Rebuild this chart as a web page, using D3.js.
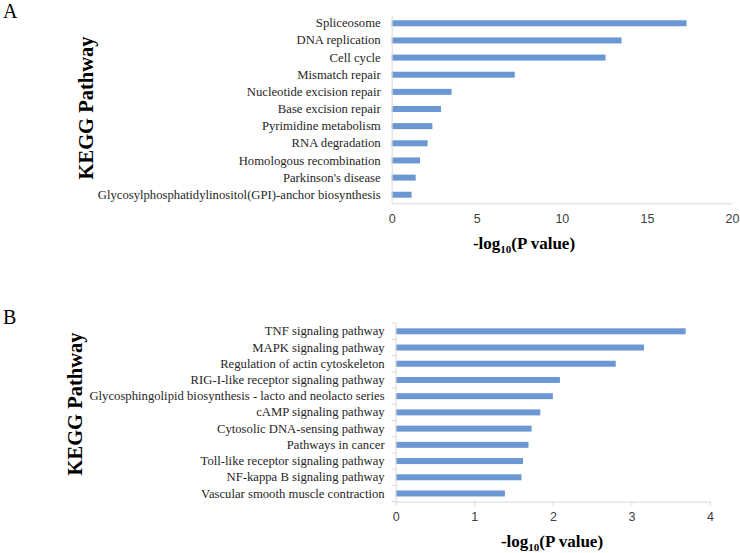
<!DOCTYPE html>
<html>
<head>
<meta charset="utf-8">
<script src="https://cdn.jsdelivr.net/npm/d3@7"></script>
<style>
  html, body { margin: 0; padding: 0; background: #ffffff; }
  svg { display: block; }
</style>
</head>
<body>
<svg id="chart" width="740" height="553"></svg>
<script>
// ---------- data ----------
const categoriesA = [
  "Spliceosome",
  "DNA replication",
  "Cell cycle",
  "Mismatch repair",
  "Nucleotide excision repair",
  "Base excision repair",
  "Pyrimidine metabolism",
  "RNA degradation",
  "Homologous recombination",
  "Parkinson's disease",
  "Glycosylphosphatidylinositol(GPI)-anchor biosynthesis"
];
const valuesA = [17.33, 13.51, 12.57, 7.23, 3.52, 2.90, 2.39, 2.11, 1.66, 1.41, 1.17];
const ticksA = [0, 5, 10, 15, 20];

const categoriesB = [
  "TNF signaling pathway",
  "MAPK signaling pathway",
  "Regulation of actin cytoskeleton",
  "RIG-I-like receptor signaling pathway",
  "Glycosphingolipid biosynthesis - lacto and neolacto series",
  "cAMP signaling pathway",
  "Cytosolic DNA-sensing pathway",
  "Pathways in cancer",
  "Toll-like receptor signaling pathway",
  "NF-kappa B signaling pathway",
  "Vascular smooth muscle contraction"
];
const valuesB = [3.69, 3.16, 2.80, 2.09, 2.00, 1.84, 1.73, 1.69, 1.62, 1.60, 1.39];
const ticksB = [0, 1, 2, 3, 4];

// ---------- drawing ----------
const svg = d3.select("#chart");
const barColor = "#6b98d3";
const axisColor = "#d9d9d9";
const serif = "'Liberation Serif', 'Times New Roman', serif";
const sans = "'Liberation Sans', Arial, sans-serif";

function panel(cfg) {
  const g = svg.append("g");
  const x = d3.scaleLinear().domain([cfg.ticks[0], cfg.ticks[cfg.ticks.length - 1]])
    .range([cfg.x0, cfg.x1]);
  const y = d3.scaleBand().domain(cfg.categories).range([cfg.y0, cfg.y1])
    .paddingInner(0).paddingOuter(0);
  const barH = 6;

  // bars
  g.selectAll("rect.bar").data(cfg.values).enter().append("rect")
    .attr("class", "bar")
    .attr("x", x(0))
    .attr("y", (d, i) => y(cfg.categories[i]) + y.bandwidth() / 2 - barH / 2)
    .attr("width", d => x(d) - x(0))
    .attr("height", barH)
    .attr("fill", barColor);

  // x axis
  const xAxis = d3.axisBottom(x).tickValues(cfg.ticks).tickFormat(d3.format("d"))
    .tickSize(cfg.tickMarks ? 4 : 0).tickPadding(cfg.tickPad).tickSizeOuter(0);
  const gx = g.append("g").attr("transform", `translate(0,${cfg.y1})`).call(xAxis);
  gx.select(".domain").attr("stroke", axisColor);
  gx.selectAll(".tick line").attr("stroke", axisColor);
  gx.selectAll(".tick text").attr("font-family", sans).attr("font-size", 12.5)
    .attr("fill", "#404040");

  // y axis
  const yAxis = d3.axisLeft(y).tickSize(0).tickPadding(11).tickSizeOuter(0);
  const gy = g.append("g").attr("transform", `translate(${cfg.x0},0)`).call(yAxis);
  gy.select(".domain").attr("stroke", axisColor);
  gy.selectAll(".tick text").attr("font-family", serif).attr("font-size", 12.7)
    .attr("fill", "#262626");

  // boundary ticks on the category axis
  if (cfg.tickMarks) {
    const bounds = cfg.categories.map(c => y(c)).concat([cfg.y1]);
    g.selectAll("line.cb").data(bounds).enter().append("line")
      .attr("x1", cfg.x0 - 4).attr("x2", cfg.x0)
      .attr("y1", d => d).attr("y2", d => d)
      .attr("stroke", axisColor);
  }

  // x-axis title
  const t = g.append("text")
    .attr("x", cfg.titleX).attr("y", cfg.titleY)
    .attr("text-anchor", "middle")
    .attr("font-family", serif).attr("font-weight", "bold").attr("font-size", 17)
    .attr("fill", "#000");
  t.append("tspan").text("-log");
  t.append("tspan").attr("font-size", 11).attr("dy", 4).text("10");
  t.append("tspan").attr("dy", -4).text("(P value)");

  // y-axis title
  g.append("text")
    .attr("transform", `translate(${cfg.yTitleX},${cfg.yTitleY}) rotate(-90)`)
    .attr("text-anchor", "middle")
    .attr("font-family", serif).attr("font-weight", "bold").attr("font-size", 20.5)
    .attr("fill", "#000")
    .text("KEGG Pathway");

  // panel letter
  g.append("text")
    .attr("x", 3).attr("y", cfg.letterY)
    .attr("font-family", serif).attr("font-size", 20)
    .attr("fill", "#000")
    .text(cfg.letter);
}

panel({
  categories: categoriesA, values: valuesA, ticks: ticksA,
  x0: 391.7, x1: 732, y0: 14.7, y1: 203.3,
  tickMarks: false, tickPad: 11,
  titleX: 524, titleY: 249,
  yTitleX: 93, yTitleY: 108,
  letter: "A", letterY: 18
});

panel({
  categories: categoriesB, values: valuesB, ticks: ticksB,
  x0: 395.7, x1: 710, y0: 323.2, y1: 501.6,
  tickMarks: true, tickPad: 7,
  titleX: 552, titleY: 547,
  yTitleX: 82, yTitleY: 404,
  letter: "B", letterY: 324
});
</script>
</body>
</html>
